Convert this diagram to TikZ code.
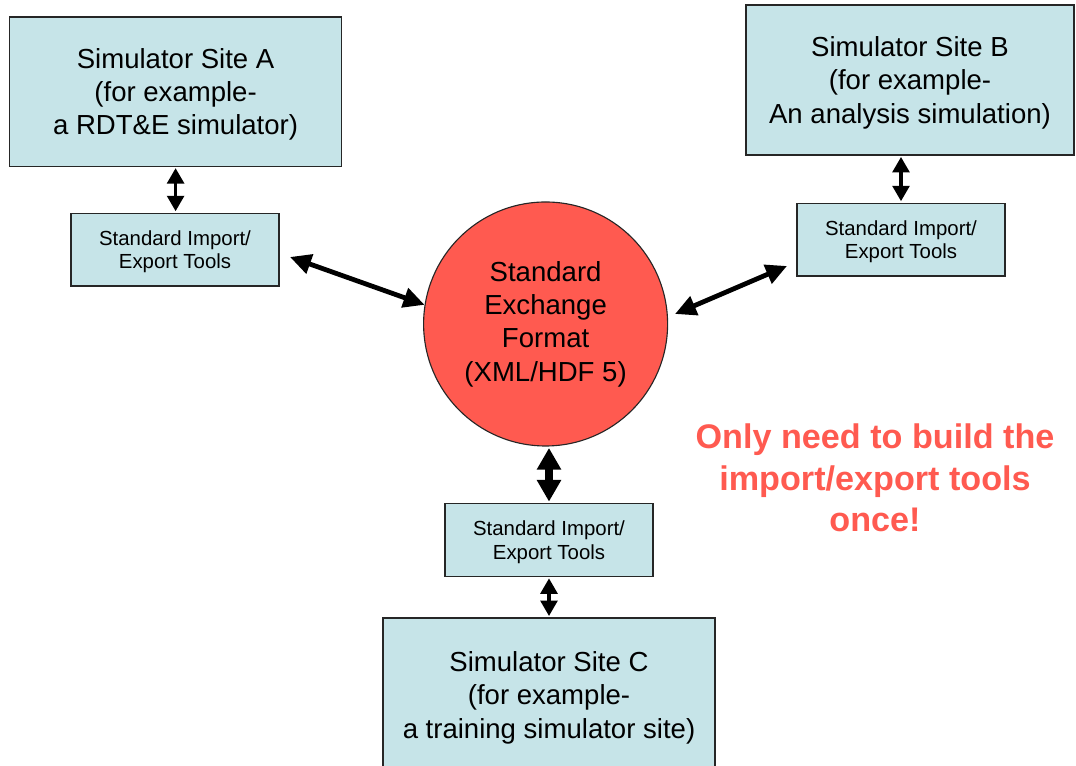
\documentclass[tikz,border=0pt]{standalone}
\usepackage{fontspec}
\setmainfont{Liberation Sans}
\usetikzlibrary{arrows.meta}

\definecolor{boxblue}{RGB}{198,228,232}
\definecolor{sefred}{RGB}{255,90,80}

\tikzset{
  sitebox/.style={draw=black!85,line width=0.8pt,fill=boxblue,align=center,text depth=0pt,
    minimum width=8.3cm,minimum height=3.73cm,font=\fontsize{19.6}{23.7}\selectfont},
  toolbox/.style={draw=black!85,line width=0.8pt,fill=boxblue,align=center,text depth=-4pt,
    minimum width=5.2cm,minimum height=1.82cm,font=\fontsize{14.5}{17}\selectfont},
  thinlink/.style={line width=2.3pt,{Triangle[length=11pt,width=12pt]}-{Triangle[length=11pt,width=12pt]}},
  widelink/.style={line width=3.4pt,{Triangle[length=15pt,width=14pt]}-{Triangle[length=15pt,width=14pt]}},
  fatlink/.style={line width=5pt,{Triangle[length=15.5pt,width=16.5pt]}-{Triangle[length=15.5pt,width=16.5pt]}}
}

\begin{document}
\begin{tikzpicture}
	\clip (0,0) rectangle (26.9,19.15);
	% simulator sites
	\node[sitebox] (siteA) at (4.39,16.86) {Simulator Site A\\(for example-\\a RDT\&E simulator)};
	\node[sitebox,minimum width=8.2cm,minimum height=3.75cm] (siteB) at (22.75,17.15) {Simulator Site B\\(for example-\\An analysis simulation)};
	\node[sitebox,minimum height=3.85cm] (siteC) at (13.725,1.775) {Simulator Site C\\(for example-\\a training simulator site)};
	% import/export tools
	\node[toolbox] (toolsA) at (4.375,12.91) {Standard Import/\\Export Tools};
	\node[toolbox] (toolsB) at (22.525,13.16) {Standard Import/\\Export Tools};
	\node[toolbox] (toolsC) at (13.725,5.65) {Standard Import/\\Export Tools};
	% exchange format in the middle
	\node[circle,draw=black!85,line width=0.8pt,fill=sefred,minimum size=6.1cm,inner sep=0pt,align=center,
		font=\fontsize{19.6}{23.7}\selectfont] (sef) at (13.64,11.05) {Standard\\Exchange\\Format\\(XML/HDF 5)};
	\node[text=sefred,align=center,font=\bfseries\fontsize{24.3}{29.4}\selectfont] (note) at (21.875,7.2)
		{Only need to build the\\import/export tools\\once!};

	\coordinate (aEnd) at (7.25,12.725);
	\coordinate (bStart) at (16.875,11.3);
	\coordinate (bEnd) at (19.675,12.5);

	\draw[thinlink,shorten <=1pt,shorten >=1pt] (siteA.south) -- (toolsA.north -| siteA.south);
	\draw[thinlink,shorten <=1pt,shorten >=1pt] (siteB.south -| toolsB.north) -- (toolsB.north);
	\draw[thinlink,shorten <=1pt,shorten >=1pt] (toolsC.south) -- (siteC.north);
	\draw[widelink] (aEnd) -- (sef.171);
	\draw[widelink] (bStart) -- (bEnd);
	\draw[fatlink,shorten <=1pt,shorten >=1pt] (toolsC.north |- sef.south) -- (toolsC.north);
\end{tikzpicture}
\end{document}
